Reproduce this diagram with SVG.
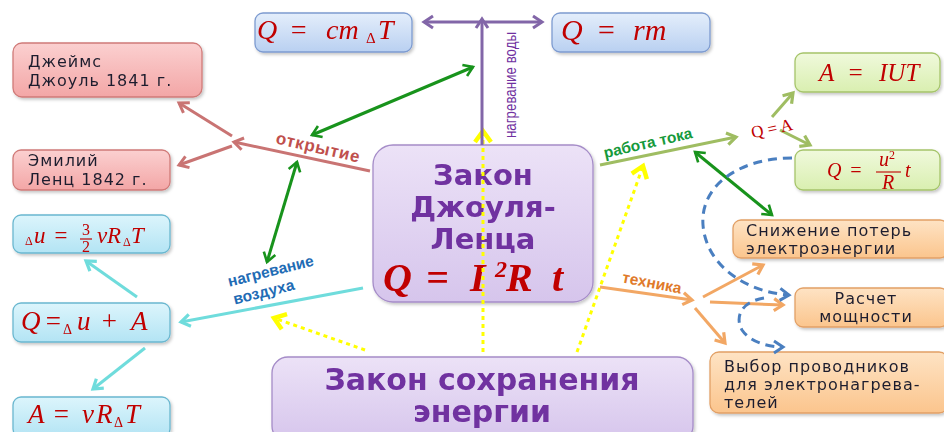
<svg xmlns="http://www.w3.org/2000/svg" width="944" height="432" viewBox="0 0 944 432">
<style>
.box{stroke-width:1.3}
.blue{fill:url(#gBlue);stroke:#7d9bd0}
.red{fill:url(#gRed);stroke:#d07a78}
.cyan{fill:url(#gCyan);stroke:#6ab7cf}
.green{fill:url(#gGreen);stroke:#a5c46a}
.orange{fill:url(#gOrange);stroke:#e2a066}
.purple{fill:url(#gPurple);stroke:#a58cc8}
.f{font-family:"Liberation Serif","DejaVu Serif",serif;font-style:italic;fill:#c00000}
.u{font-style:normal}
.t{font-family:"DejaVu Sans","Liberation Sans",sans-serif;fill:#1f1f2f;font-size:16px;letter-spacing:1px}
.big{font-family:"DejaVu Sans","Liberation Sans",sans-serif;font-weight:bold;fill:#7030a0}
.lab{font-family:"Liberation Sans","DejaVu Sans",sans-serif;font-weight:bold}
.c{fill:none;stroke-width:3}
</style>
<defs>
<linearGradient id="gBlue" x1="0" y1="0" x2="0" y2="1"><stop offset="0" stop-color="#e4eefb"/><stop offset="1" stop-color="#b9d0f1"/></linearGradient>
<linearGradient id="gRed" x1="0" y1="0" x2="0" y2="1"><stop offset="0" stop-color="#fbd0d0"/><stop offset="1" stop-color="#f3a6a6"/></linearGradient>
<linearGradient id="gCyan" x1="0" y1="0" x2="0" y2="1"><stop offset="0" stop-color="#dcf5fc"/><stop offset="1" stop-color="#b3e4f4"/></linearGradient>
<linearGradient id="gGreen" x1="0" y1="0" x2="0" y2="1"><stop offset="0" stop-color="#f0f9dc"/><stop offset="1" stop-color="#d9efb0"/></linearGradient>
<linearGradient id="gOrange" x1="0" y1="0" x2="0" y2="1"><stop offset="0" stop-color="#fee3c4"/><stop offset="1" stop-color="#fbc58d"/></linearGradient>
<linearGradient id="gPurple" x1="0" y1="0" x2="0" y2="1"><stop offset="0" stop-color="#ece2f7"/><stop offset="1" stop-color="#d6c5ec"/></linearGradient>
<filter id="sh" x="-10%" y="-10%" width="120%" height="130%"><feDropShadow dx="1.5" dy="2" stdDeviation="1.5" flood-color="#000" flood-opacity="0.22"/></filter>
<marker id="mRed" markerUnits="userSpaceOnUse" markerWidth="16" markerHeight="16" refX="12" refY="8" orient="auto-start-reverse"><path d="M3,2 L12,8 L3,14" fill="none" stroke="#c97473" stroke-width="3"/></marker>
<marker id="mGreen" markerUnits="userSpaceOnUse" markerWidth="16" markerHeight="16" refX="12" refY="8" orient="auto-start-reverse"><path d="M3,2 L12,8 L3,14" fill="none" stroke="#18931c" stroke-width="2.6"/></marker>
<marker id="mCyan" markerUnits="userSpaceOnUse" markerWidth="16" markerHeight="16" refX="12" refY="8" orient="auto-start-reverse"><path d="M3,2 L12,8 L3,14" fill="none" stroke="#6fdcdc" stroke-width="3.2"/></marker>
<marker id="mPurple" markerUnits="userSpaceOnUse" markerWidth="16" markerHeight="16" refX="12" refY="8" orient="auto-start-reverse"><path d="M3,2 L12,8 L3,14" fill="none" stroke="#8266a8" stroke-width="3"/></marker>
<marker id="mOlive" markerUnits="userSpaceOnUse" markerWidth="16" markerHeight="16" refX="12" refY="8" orient="auto-start-reverse"><path d="M3,2 L12,8 L3,14" fill="none" stroke="#9fbd62" stroke-width="3.2"/></marker>
<marker id="mOrange" markerUnits="userSpaceOnUse" markerWidth="16" markerHeight="16" refX="12" refY="8" orient="auto-start-reverse"><path d="M3,2 L12,8 L3,14" fill="none" stroke="#f2a764" stroke-width="3.2"/></marker>
<marker id="mBlue" markerUnits="userSpaceOnUse" markerWidth="16" markerHeight="16" refX="12" refY="8" orient="auto-start-reverse"><path d="M3,2 L12,8 L3,14" fill="none" stroke="#4a7fc0" stroke-width="3"/></marker>
<marker id="mYellow" markerUnits="userSpaceOnUse" markerWidth="20" markerHeight="20" refX="14" refY="10" orient="auto-start-reverse"><path d="M3,2 L14,10 L3,18" fill="none" stroke="#ffff00" stroke-width="4.5"/></marker>
</defs>
<rect width="944" height="432" fill="#ffffff"/>

<!-- nodes -->
<g id="n-cmdt" filter="url(#sh)"><rect class="box blue" x="255" y="13" width="157" height="39" rx="8"/>
<text class="f" y="39" font-size="28"><tspan x="257">Q</tspan><tspan x="289">=</tspan><tspan x="326">cm</tspan><tspan class="u" x="366" font-size="15" dy="4">Δ</tspan><tspan x="378" dy="-4">T</tspan></text></g>
<g id="n-rm" filter="url(#sh)"><rect class="box blue" x="552" y="13" width="158" height="39" rx="8"/>
<text class="f" y="40" font-size="30"><tspan x="561">Q</tspan><tspan x="596">=</tspan><tspan x="633">rm</tspan></text></g>

<g id="n-joule" filter="url(#sh)"><rect class="box red" x="13" y="43" width="189" height="54" rx="9"/>
<text class="t" x="28" y="67">Джеймс</text><text class="t" x="28" y="86">Джоуль 1841 г.</text></g>
<g id="n-lenz" filter="url(#sh)"><rect class="box red" x="13" y="150" width="157" height="40" rx="8"/>
<text class="t" x="28" y="166">Эмилий</text><text class="t" x="28" y="185">Ленц 1842 г.</text></g>

<g id="n-du" filter="url(#sh)"><rect class="box cyan" x="13" y="215" width="157" height="38" rx="8"/>
<text class="f" y="243" font-size="23"><tspan class="u" x="25" font-size="12" dy="2">Δ</tspan><tspan x="34" dy="-2">u</tspan><tspan x="53">=</tspan></text>
<text class="f u" x="86" y="235" font-size="16" text-anchor="middle">3</text>
<line x1="80" y1="239" x2="92" y2="239" stroke="#c00000" stroke-width="1.2"/>
<text class="f u" x="86" y="252" font-size="16" text-anchor="middle">2</text>
<text class="f" y="243" font-size="23"><tspan x="97">ν</tspan><tspan x="107">R</tspan><tspan class="u" x="123" font-size="12" dy="3">Δ</tspan><tspan x="131" dy="-3">T</tspan></text></g>

<g id="n-qua" filter="url(#sh)"><rect class="box cyan" x="13" y="303" width="157" height="39" rx="8"/>
<text class="f" y="330" font-size="27"><tspan x="21">Q</tspan><tspan x="44">=</tspan><tspan class="u" x="63" font-size="14" dy="4">Δ</tspan><tspan x="77" dy="-4">u</tspan><tspan x="100">+</tspan><tspan x="131">A</tspan></text></g>

<g id="n-avrt" filter="url(#sh)"><rect class="box cyan" x="13" y="397" width="157" height="40" rx="8"/>
<text class="f" y="423" font-size="27"><tspan x="28">A</tspan><tspan x="52">=</tspan><tspan x="82">ν</tspan><tspan x="96">R</tspan><tspan class="u" x="114" font-size="14" dy="4">Δ</tspan><tspan x="125" dy="-4">T</tspan></text></g>

<g id="n-main" filter="url(#sh)"><rect class="box purple" x="373" y="145" width="220" height="157" rx="20"/>
<text class="big" x="483" y="185" font-size="29" text-anchor="middle">Закон</text>
<text class="big" x="483" y="217" font-size="29" text-anchor="middle">Джоуля-</text>
<text class="big" x="483" y="249" font-size="29" text-anchor="middle">Ленца</text>
<text y="291" font-size="40" font-family="Liberation Serif,DejaVu Serif,serif" font-style="italic" font-weight="bold" fill="#c00000"><tspan x="383">Q</tspan><tspan x="426">=</tspan><tspan x="470">I</tspan><tspan x="495" font-size="24" dy="-14">2</tspan><tspan x="506" dy="14">R</tspan><tspan x="552">t</tspan></text></g>

<g id="n-energy" filter="url(#sh)"><rect class="box purple" x="272" y="357" width="421" height="85" rx="16"/>
<text class="big" x="482" y="390" font-size="30" text-anchor="middle">Закон сохранения</text>
<text class="big" x="482" y="422" font-size="30" text-anchor="middle">энергии</text></g>

<g id="n-aiut" filter="url(#sh)"><rect class="box green" x="795" y="53" width="145" height="39" rx="8"/>
<text class="f" y="81" font-size="25"><tspan x="819">A</tspan><tspan x="847">=</tspan><tspan x="879">IUT</tspan></text></g>
<g id="n-qur" filter="url(#sh)"><rect class="box green" x="795" y="150" width="145" height="40" rx="8"/>
<text class="f" y="177" font-size="20"><tspan x="827">Q</tspan><tspan x="849">=</tspan></text>
<text class="f" x="887" y="166" font-size="20" text-anchor="middle">u<tspan class="u" font-size="12" dy="-7">2</tspan></text>
<line x1="876" y1="172" x2="901" y2="172" stroke="#c00000" stroke-width="1.1"/>
<text class="f" x="888" y="189" font-size="20" text-anchor="middle">R</text>
<text class="f" x="905" y="177" font-size="20">t</text></g>

<g id="n-loss" filter="url(#sh)"><rect class="box orange" x="733" y="220" width="215" height="38" rx="8"/>
<text class="t" x="746" y="236">Снижение потерь</text><text class="t" x="746" y="254">электроэнергии</text></g>
<g id="n-power" filter="url(#sh)"><rect class="box orange" x="795" y="288" width="153" height="39" rx="8"/>
<text class="t" x="866" y="304" text-anchor="middle">Расчет</text><text class="t" x="866" y="322" text-anchor="middle">мощности</text></g>
<g id="n-wires" filter="url(#sh)"><rect class="box orange" x="710" y="352" width="238" height="61" rx="9"/>
<text class="t" x="724" y="372">Выбор  проводников</text><text class="t" x="724" y="390">для электронагрева-</text><text class="t" x="724" y="408">телей</text></g>

<!-- connectors -->
<g id="connectors">
<line class="c" x1="365" y1="350" x2="274" y2="318" stroke="#ffff00" stroke-width="4.5" stroke-dasharray="4 4" marker-end="url(#mYellow)"/>
<line class="c" x1="483" y1="352" x2="483" y2="131" stroke="#ffff00" stroke-width="4.5" stroke-dasharray="4 4" marker-end="url(#mYellow)"/>
<line class="c" x1="577" y1="352" x2="643" y2="166" stroke="#ffff00" stroke-width="4.5" stroke-dasharray="4 4" marker-end="url(#mYellow)"/>

<line class="c" x1="482" y1="145" x2="482" y2="19" stroke="#8266a8" marker-end="url(#mPurple)"/>
<line class="c" x1="480" y1="22" x2="424" y2="22" stroke="#8266a8" marker-end="url(#mPurple)"/>
<line class="c" x1="484" y1="22" x2="542" y2="22" stroke="#8266a8" marker-end="url(#mPurple)"/>

<line class="c" x1="370" y1="171" x2="234" y2="142" stroke="#c97473" marker-end="url(#mRed)"/>
<line class="c" x1="232" y1="136" x2="179" y2="103" stroke="#c97473" marker-end="url(#mRed)"/>
<line class="c" x1="232" y1="146" x2="179" y2="165" stroke="#c97473" marker-end="url(#mRed)"/>

<line class="c" x1="312" y1="135" x2="473" y2="67" stroke="#18931c" stroke-width="2.4" marker-start="url(#mGreen)" marker-end="url(#mGreen)"/>
<line class="c" x1="297" y1="162" x2="267" y2="262" stroke="#18931c" stroke-width="2.4" marker-start="url(#mGreen)" marker-end="url(#mGreen)"/>
<line class="c" x1="695" y1="152" x2="772" y2="215" stroke="#18931c" stroke-width="2.4" marker-start="url(#mGreen)" marker-end="url(#mGreen)"/>

<line class="c" x1="363" y1="288" x2="181" y2="322" stroke="#6fdcdc" marker-end="url(#mCyan)"/>
<line class="c" x1="137" y1="297" x2="86" y2="261" stroke="#6fdcdc" marker-end="url(#mCyan)"/>
<line class="c" x1="145" y1="348" x2="93" y2="389" stroke="#6fdcdc" marker-end="url(#mCyan)"/>

<line class="c" x1="600" y1="165" x2="736" y2="137" stroke="#9fbd62" marker-end="url(#mOlive)"/>
<line class="c" x1="772" y1="117" x2="793" y2="93" stroke="#9fbd62" marker-end="url(#mOlive)"/>
<line class="c" x1="780" y1="130" x2="810" y2="145" stroke="#9fbd62" marker-end="url(#mOlive)"/>

<line class="c" x1="600" y1="287" x2="692" y2="300" stroke="#f2a764" marker-end="url(#mOrange)"/>
<line class="c" x1="703" y1="297" x2="763" y2="265" stroke="#f2a764" marker-end="url(#mOrange)"/>
<line class="c" x1="710" y1="302" x2="783" y2="305" stroke="#f2a764" marker-end="url(#mOrange)"/>
<line class="c" x1="695" y1="308" x2="725" y2="343" stroke="#f2a764" marker-end="url(#mOrange)"/>

<path class="c" d="M792,158 C740,158 700,185 703,225 C706,265 745,292 789,295" stroke="#4a7fc0" stroke-dasharray="9 6" marker-end="url(#mBlue)"/>
<path class="c" d="M764,298 C740,302 735,318 742,330 C750,342 768,347 783,347" stroke="#4a7fc0" stroke-dasharray="9 6" marker-end="url(#mBlue)"/>
</g>

<!-- connector labels -->
<text class="lab" transform="translate(317,153) rotate(13)" font-size="17" letter-spacing="0.8" fill="#c0504d" text-anchor="middle">открытие</text>
<text class="lab" transform="translate(272,276) rotate(-14)" font-size="15.5" fill="#1f6cb5" text-anchor="middle">нагревание</text>
<text class="lab" transform="translate(265,297) rotate(-14)" font-size="15.5" fill="#1f6cb5" text-anchor="middle">воздуха</text>
<text transform="translate(516,85) rotate(-90)" font-family="Liberation Sans,DejaVu Sans,sans-serif" font-size="17" fill="#7030a0" text-anchor="middle" textLength="106" lengthAdjust="spacingAndGlyphs">нагревание воды</text>
<text class="lab" transform="translate(649,148) rotate(-13)" font-size="15.5" fill="#169a3c" text-anchor="middle">работа тока</text>
<text class="lab" transform="translate(651,288) rotate(11)" font-size="15.5" fill="#e07a2a" text-anchor="middle">техника</text>
<text transform="translate(773,134) rotate(-12)" font-family="Liberation Serif,DejaVu Serif,serif" font-size="17" fill="#c00000" text-anchor="middle">Q = A</text>
</svg>
